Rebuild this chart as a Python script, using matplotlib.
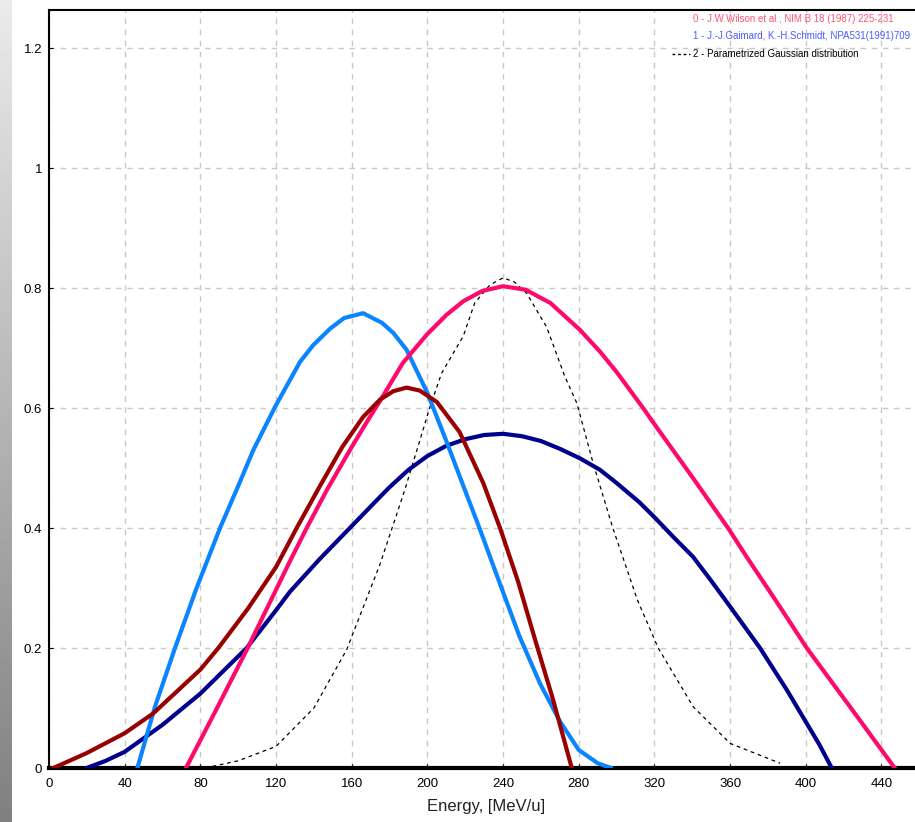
import numpy as np
import matplotlib
matplotlib.use("Agg")
import matplotlib.pyplot as plt

plt.rcParams["font.family"] = ["Liberation Sans", "DejaVu Sans"]

# Curve values (energy in MeV/u, relative yield)
pink_x = [72.4, 88, 105, 127.4, 136.2, 146.8, 160, 168.6, 175, 187, 199.6, 210, 219, 229, 240,
          252, 265, 280.7, 291.2, 300, 314, 320, 340, 358.9, 368.7, 385, 400.5, 425, 447]
pink_y = [0.0, 0.095, 0.2, 0.345, 0.4, 0.463, 0.535, 0.58, 0.612, 0.675, 0.722, 0.755, 0.778, 0.795, 0.803,
          0.797, 0.775, 0.73, 0.694, 0.66, 0.6, 0.573, 0.485, 0.4, 0.352, 0.275, 0.2, 0.095, 0.0]

lblue_x = [46.7, 56, 66.6, 78, 90.4, 100, 108, 119.5, 132.7, 139.7, 148.5, 156, 166,
           176, 182, 189, 200, 210, 219, 227.5, 238, 248.6, 259.5, 270, 280, 290, 297]
lblue_y = [0.0, 0.102, 0.2, 0.3, 0.4, 0.47, 0.53, 0.602, 0.677, 0.705, 0.732, 0.75, 0.758,
           0.742, 0.725, 0.697, 0.625, 0.545, 0.47, 0.4, 0.31, 0.22, 0.141, 0.078, 0.03, 0.008, 0.0]

navy_x = [19.9, 30, 40, 60, 80, 104.5, 120, 127.4, 143, 159, 175, 180, 190, 200, 210, 220, 230, 240,
          250, 260, 270, 280.7, 291.2, 300, 312, 320, 330, 340.4, 350, 360, 375.8, 390, 400, 407, 413.7]
navy_y = [0.0, 0.012, 0.027, 0.072, 0.124, 0.2, 0.263, 0.294, 0.348, 0.4, 0.452, 0.468, 0.497, 0.52,
          0.537, 0.548, 0.555, 0.557, 0.553, 0.545, 0.532, 0.516, 0.497, 0.475, 0.443, 0.418, 0.385,
          0.352, 0.312, 0.269, 0.2, 0.13, 0.077, 0.04, 0.0]

dred_x = [2.3, 20, 40, 55.1, 80, 89.5, 105, 120, 130.9, 143.2, 155, 166, 175, 182, 189, 196,
          205, 217, 229.5, 238.4, 248, 257, 266.5, 276.3]
dred_y = [0.0, 0.025, 0.058, 0.091, 0.164, 0.2, 0.265, 0.335, 0.4, 0.47, 0.535, 0.585, 0.614, 0.628,
          0.634, 0.629, 0.61, 0.56, 0.475, 0.4, 0.31, 0.213, 0.113, 0.0]

gauss_x = [82.5, 100, 120, 140, 157.3, 175, 188, 201.4, 207.5, 219, 225, 233, 240, 246, 252.5,
           263, 272.7, 279, 287.6, 298, 311, 322, 340.5, 360, 386.4]
gauss_y = [0.0, 0.012, 0.036, 0.1, 0.197, 0.34, 0.463, 0.602, 0.658, 0.72, 0.775, 0.805, 0.817,
           0.81, 0.791, 0.735, 0.652, 0.608, 0.508, 0.4, 0.28, 0.2, 0.102, 0.041, 0.008]

x_ticks = [0, 40, 80, 120, 160, 200, 240, 280, 320, 360, 400, 440]
y_ticks = [0, 0.2, 0.4, 0.6, 0.8, 1.0, 1.2]
y_tick_labels = ["0", "0.2", "0.4", "0.6", "0.8", "1", "1.2"]

legend_lines = [
    "0 - J.W.Wilson et al., NIM B 18 (1987) 225-231",
    "1 - J.-J.Gaimard, K.-H.Schmidt, NPA531(1991)709",
    "2 - Parametrized Gaussian distribution",
]

W, H = 915, 822
fig = plt.figure(figsize=(W / 100, H / 100), dpi=100)
fig.patch.set_facecolor("white")

# gray gradient strip on the left edge
strip = fig.add_axes([0, 0, 12 / W, 1])
grad = np.linspace(0.92, 0.5, 256).reshape(-1, 1)
strip.imshow(grad, cmap="gray", vmin=0, vmax=1, aspect="auto")
strip.axis("off")

left, right, top, bottom = 49, 915, 10, 768
ax = fig.add_axes([left / W, (H - bottom) / H, (right - left) / W, (bottom - top) / H])
ax.set_xlim(0, (right - left) / 1.892)
ax.set_ylim(0, (bottom - top) / 600)

ax.plot(gauss_x, gauss_y, color="black", lw=0.9, dashes=(3, 3), zorder=2)
ax.plot(navy_x, navy_y, color="#00008c", lw=3, zorder=3, solid_joinstyle="round")
ax.plot(lblue_x, lblue_y, color="#0a84ff", lw=3, zorder=3, solid_joinstyle="round")
ax.plot(pink_x, pink_y, color="#ff0a6c", lw=3, zorder=3, solid_joinstyle="round")
ax.plot(dred_x, dred_y, color="#990000", lw=3, zorder=4, solid_joinstyle="round")

ax.set_xticks(x_ticks)
ax.set_xticklabels([str(v) for v in x_ticks])
ax.set_yticks(y_ticks)
ax.set_yticklabels(y_tick_labels)
ax.tick_params(labelsize=9.5, length=3, direction="in", colors="black")
ax.tick_params(axis="x", pad=7)
ax.tick_params(axis="y", pad=5)
ax.grid(True, color="#c8c8c8", linestyle=(0, (4, 4)), linewidth=1)

for side in ["top", "left"]:
    ax.spines[side].set_linewidth(1.5)
ax.spines["bottom"].set_linewidth(3)
ax.spines["right"].set_visible(False)

fig.text(486 / W, 1 - 806 / H, "Energy, [MeV/u]", ha="center", va="center",
         fontsize=12, color="#222222")

# legend drawn as text lines in the upper right corner
fig.text(693 / W, 1 - 19 / H, legend_lines[0], fontsize=7, color="#ff5577", va="center")
fig.text(693 / W, 1 - 36 / H, legend_lines[1], fontsize=7, color="#4a5cff", va="center")
fig.text(693 / W, 1 - 54 / H, legend_lines[2], fontsize=7, color="black", va="center")
fig.add_artist(plt.Line2D([672 / W, 690 / W], [1 - 54 / H, 1 - 54 / H], color="black",
                          lw=1, dashes=(2, 2), transform=fig.transFigure))

fig.savefig("out.png", dpi=100)
